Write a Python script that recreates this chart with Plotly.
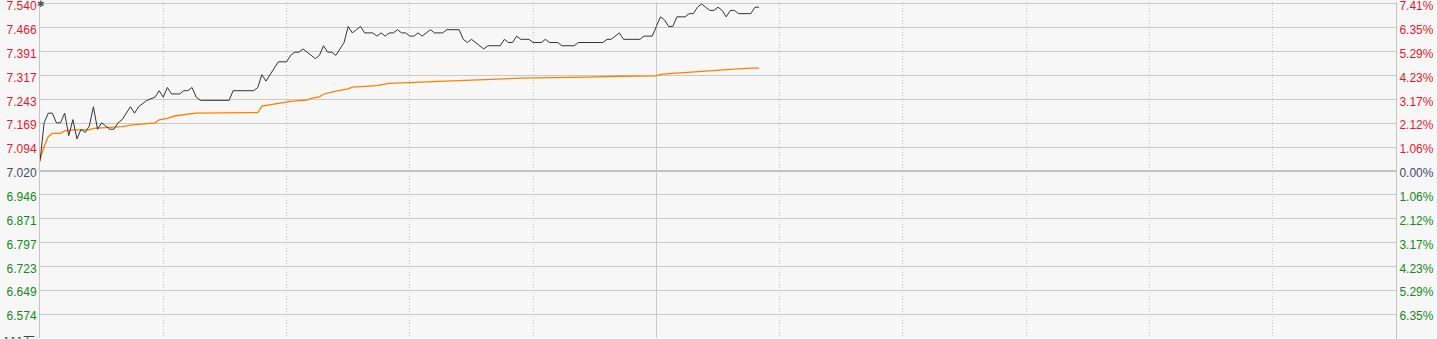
import plotly.graph_objects as go

# ---------------- data ----------------
prev_close = 7.020
# minutes since 09:30 (HK session: 0-150 morning, 150-330 afternoon)
price_min = [0, 1, 2, 3, 4, 5, 6, 7, 8, 9, 10, 11, 12, 13, 14, 15, 16, 17, 18, 19,
             20, 21, 22, 23, 24, 26, 28, 29, 30, 31, 32, 34, 35, 36, 37, 38, 39, 46, 47, 52,
             53, 54, 55, 58, 60, 61, 62, 63, 64, 65, 66, 67, 68, 69, 70, 71, 72, 73, 74, 75,
             76, 77, 78, 79, 81, 82, 83, 84, 85, 86, 87, 88, 89, 90, 91, 92, 93, 94, 95, 96,
             98, 99, 102, 103, 104, 105, 106, 107, 108, 109, 112, 113, 114, 115, 116, 117, 119, 120, 122, 123,
             124, 126, 127, 130, 131, 137, 138, 139, 141, 142, 146, 147, 149, 150, 151, 152, 153, 154, 155, 156,
             157, 158, 159, 160, 161, 162, 163, 164, 165, 166, 167, 168, 169, 170, 173, 174, 175]
price_val = [7.05, 7.17, 7.20, 7.20, 7.17, 7.17, 7.20, 7.13, 7.18, 7.12, 7.15, 7.14, 7.16, 7.22, 7.15, 7.17, 7.16, 7.15, 7.15, 7.17,
             7.18, 7.20, 7.22, 7.20, 7.22, 7.24, 7.25, 7.27, 7.25, 7.28, 7.26, 7.26, 7.27, 7.27, 7.28, 7.25, 7.24, 7.24, 7.27, 7.27,
             7.28, 7.32, 7.30, 7.36, 7.36, 7.38, 7.39, 7.39, 7.40, 7.39, 7.38, 7.37, 7.38, 7.41, 7.39, 7.39, 7.38, 7.40, 7.42, 7.47,
             7.45, 7.46, 7.47, 7.45, 7.45, 7.44, 7.45, 7.44, 7.45, 7.45, 7.46, 7.45, 7.45, 7.44, 7.44, 7.45, 7.44, 7.45, 7.46, 7.45,
             7.45, 7.46, 7.46, 7.43, 7.42, 7.43, 7.42, 7.41, 7.40, 7.41, 7.41, 7.43, 7.42, 7.42, 7.44, 7.43, 7.43, 7.42, 7.42, 7.43,
             7.42, 7.42, 7.41, 7.41, 7.42, 7.42, 7.43, 7.43, 7.45, 7.43, 7.43, 7.44, 7.44, 7.47, 7.50, 7.49, 7.47, 7.47, 7.50, 7.50,
             7.50, 7.51, 7.51, 7.53, 7.54, 7.53, 7.52, 7.52, 7.53, 7.52, 7.50, 7.52, 7.52, 7.51, 7.51, 7.53, 7.53]

avg_min = [0, 1, 2, 3, 5, 6, 8, 12, 13, 15, 20, 22, 24, 28, 29, 31, 33, 38, 51, 53,
           54, 58, 61, 63, 65, 66, 68, 69, 72, 75, 76, 78, 82, 85, 91, 97, 105, 112, 117, 133,
           141, 150, 151, 154, 158, 161, 165, 169, 173, 175]
avg_val = [7.056, 7.096, 7.127, 7.137, 7.137, 7.145, 7.148, 7.148, 7.153, 7.155, 7.158, 7.163, 7.166, 7.170, 7.179, 7.184, 7.192, 7.200, 7.202, 7.202,
           7.222, 7.231, 7.237, 7.239, 7.241, 7.246, 7.251, 7.259, 7.269, 7.276, 7.281, 7.283, 7.286, 7.293, 7.296, 7.299, 7.303, 7.306, 7.309, 7.312,
           7.315, 7.316, 7.321, 7.324, 7.328, 7.331, 7.334, 7.337, 7.340, 7.340]

price_ticks = [7.540, 7.466, 7.391, 7.317, 7.243, 7.169, 7.094, 7.020,
               6.946, 6.871, 6.797, 6.723, 6.649, 6.574]
price_labels = ["7.540", "7.466", "7.391", "7.317", "7.243", "7.169", "7.094", "7.020",
                "6.946", "6.871", "6.797", "6.723", "6.649", "6.574"]
pct_labels = ["7.41%", "6.35%", "5.29%", "4.23%", "3.17%", "2.12%", "1.06%", "0.00%",
              "1.06%", "2.12%", "3.17%", "4.23%", "5.29%", "6.35%"]
y_low, y_high = 6.500, 7.5462
session_minutes = 330
half_hour_ticks = [30, 60, 90, 120, 180, 210, 240, 270, 300]
midday_tick = [150]
volume_label = "111万"

# ---------------- style ----------------
RED = "#e8172f"
GREEN = "#138a18"
NEUTRAL = "#3d4b6b"
BG = "#f7f7f7"
GRID = "#c9c9c9"
FONT = "Liberation Sans, Arial, sans-serif"


def colored(labels, vals):
    out = []
    for lab, v in zip(labels, vals):
        c = RED if v > prev_close + 1e-9 else (GREEN if v < prev_close - 1e-9 else NEUTRAL)
        out.append(f'<span style="color:{c}">{lab}</span>')
    return out


fig = go.Figure()
fig.add_trace(go.Scatter(x=avg_min, y=avg_val, mode="lines",
                         line=dict(color="#ff8000", width=1.3), hoverinfo="skip",
                         showlegend=False))
fig.add_trace(go.Scatter(x=price_min, y=price_val, mode="lines",
                         line=dict(color="#333333", width=1), hoverinfo="skip",
                         showlegend=False))
# helper traces so overlay axes are rendered
fig.add_trace(go.Scatter(x=[0], y=[prev_close], yaxis="y2", mode="markers",
                         marker=dict(opacity=0), showlegend=False, hoverinfo="skip"))
fig.add_trace(go.Scatter(x=[0], y=[prev_close], yaxis="y3", mode="markers",
                         marker=dict(opacity=0), showlegend=False, hoverinfo="skip"))
fig.add_trace(go.Scatter(x=[0], y=[prev_close], xaxis="x2", mode="markers",
                         marker=dict(opacity=0), showlegend=False, hoverinfo="skip"))

fig.update_layout(
    width=1437, height=339,
    margin=dict(l=40, r=41, t=2, b=1, autoexpand=False),
    paper_bgcolor=BG, plot_bgcolor=BG,
    font=dict(family=FONT, size=12),
    xaxis=dict(range=[0, session_minutes], tickmode="array", tickvals=half_hour_ticks,
               showticklabels=False, ticks="", showgrid=True, gridcolor="#c4c4c4",
               griddash="1px,2px", gridwidth=1, zeroline=False, showline=False,
               automargin=False),
    xaxis2=dict(range=[0, session_minutes], overlaying="x", tickmode="array",
                tickvals=midday_tick, showticklabels=False, ticks="", showgrid=True,
                gridcolor=GRID, gridwidth=1, zeroline=False, showline=False,
                automargin=False),
    yaxis=dict(range=[y_low, y_high], tickmode="array", tickvals=price_ticks,
               ticktext=colored(price_labels, price_ticks), ticks="",
               showgrid=True, gridcolor=GRID, gridwidth=1, zeroline=False,
               showline=True, linecolor="#c4c4c4", linewidth=1,
               ticklabeloverflow="allow", automargin=False, ticklabelshift=2,
               tickfont=dict(family=FONT, size=12)),
    yaxis2=dict(range=[y_low, y_high], overlaying="y", side="right", tickmode="array",
                tickvals=price_ticks, ticktext=colored(pct_labels, price_ticks), ticks="",
                showgrid=False, zeroline=False, showline=True, linecolor="#c4c4c4",
                linewidth=1, ticklabeloverflow="allow", automargin=False,
                ticklabelshift=2, tickfont=dict(family=FONT, size=12)),
    yaxis3=dict(range=[y_low, y_high], overlaying="y", tickmode="array",
                tickvals=[prev_close], showticklabels=False, ticks="", showgrid=True,
                gridcolor="#c2c2c2", gridwidth=2, zeroline=False, showline=False,
                automargin=False),
)

fig.add_annotation(text="✱", xref="paper", yref="y", x=0, y=price_ticks[0], xanchor="center",
                   yanchor="middle", showarrow=False, font=dict(size=9, color="#555555"),
                   xshift=1)
fig.add_annotation(text=volume_label, xref="paper", yref="paper", x=0, y=0.0,
                   xanchor="right", yanchor="top", showarrow=False, xshift=-3, yshift=8,
                   font=dict(size=12, color="#444444", family="Noto Sans CJK SC, sans-serif"))

fig.write_html("out.html")
